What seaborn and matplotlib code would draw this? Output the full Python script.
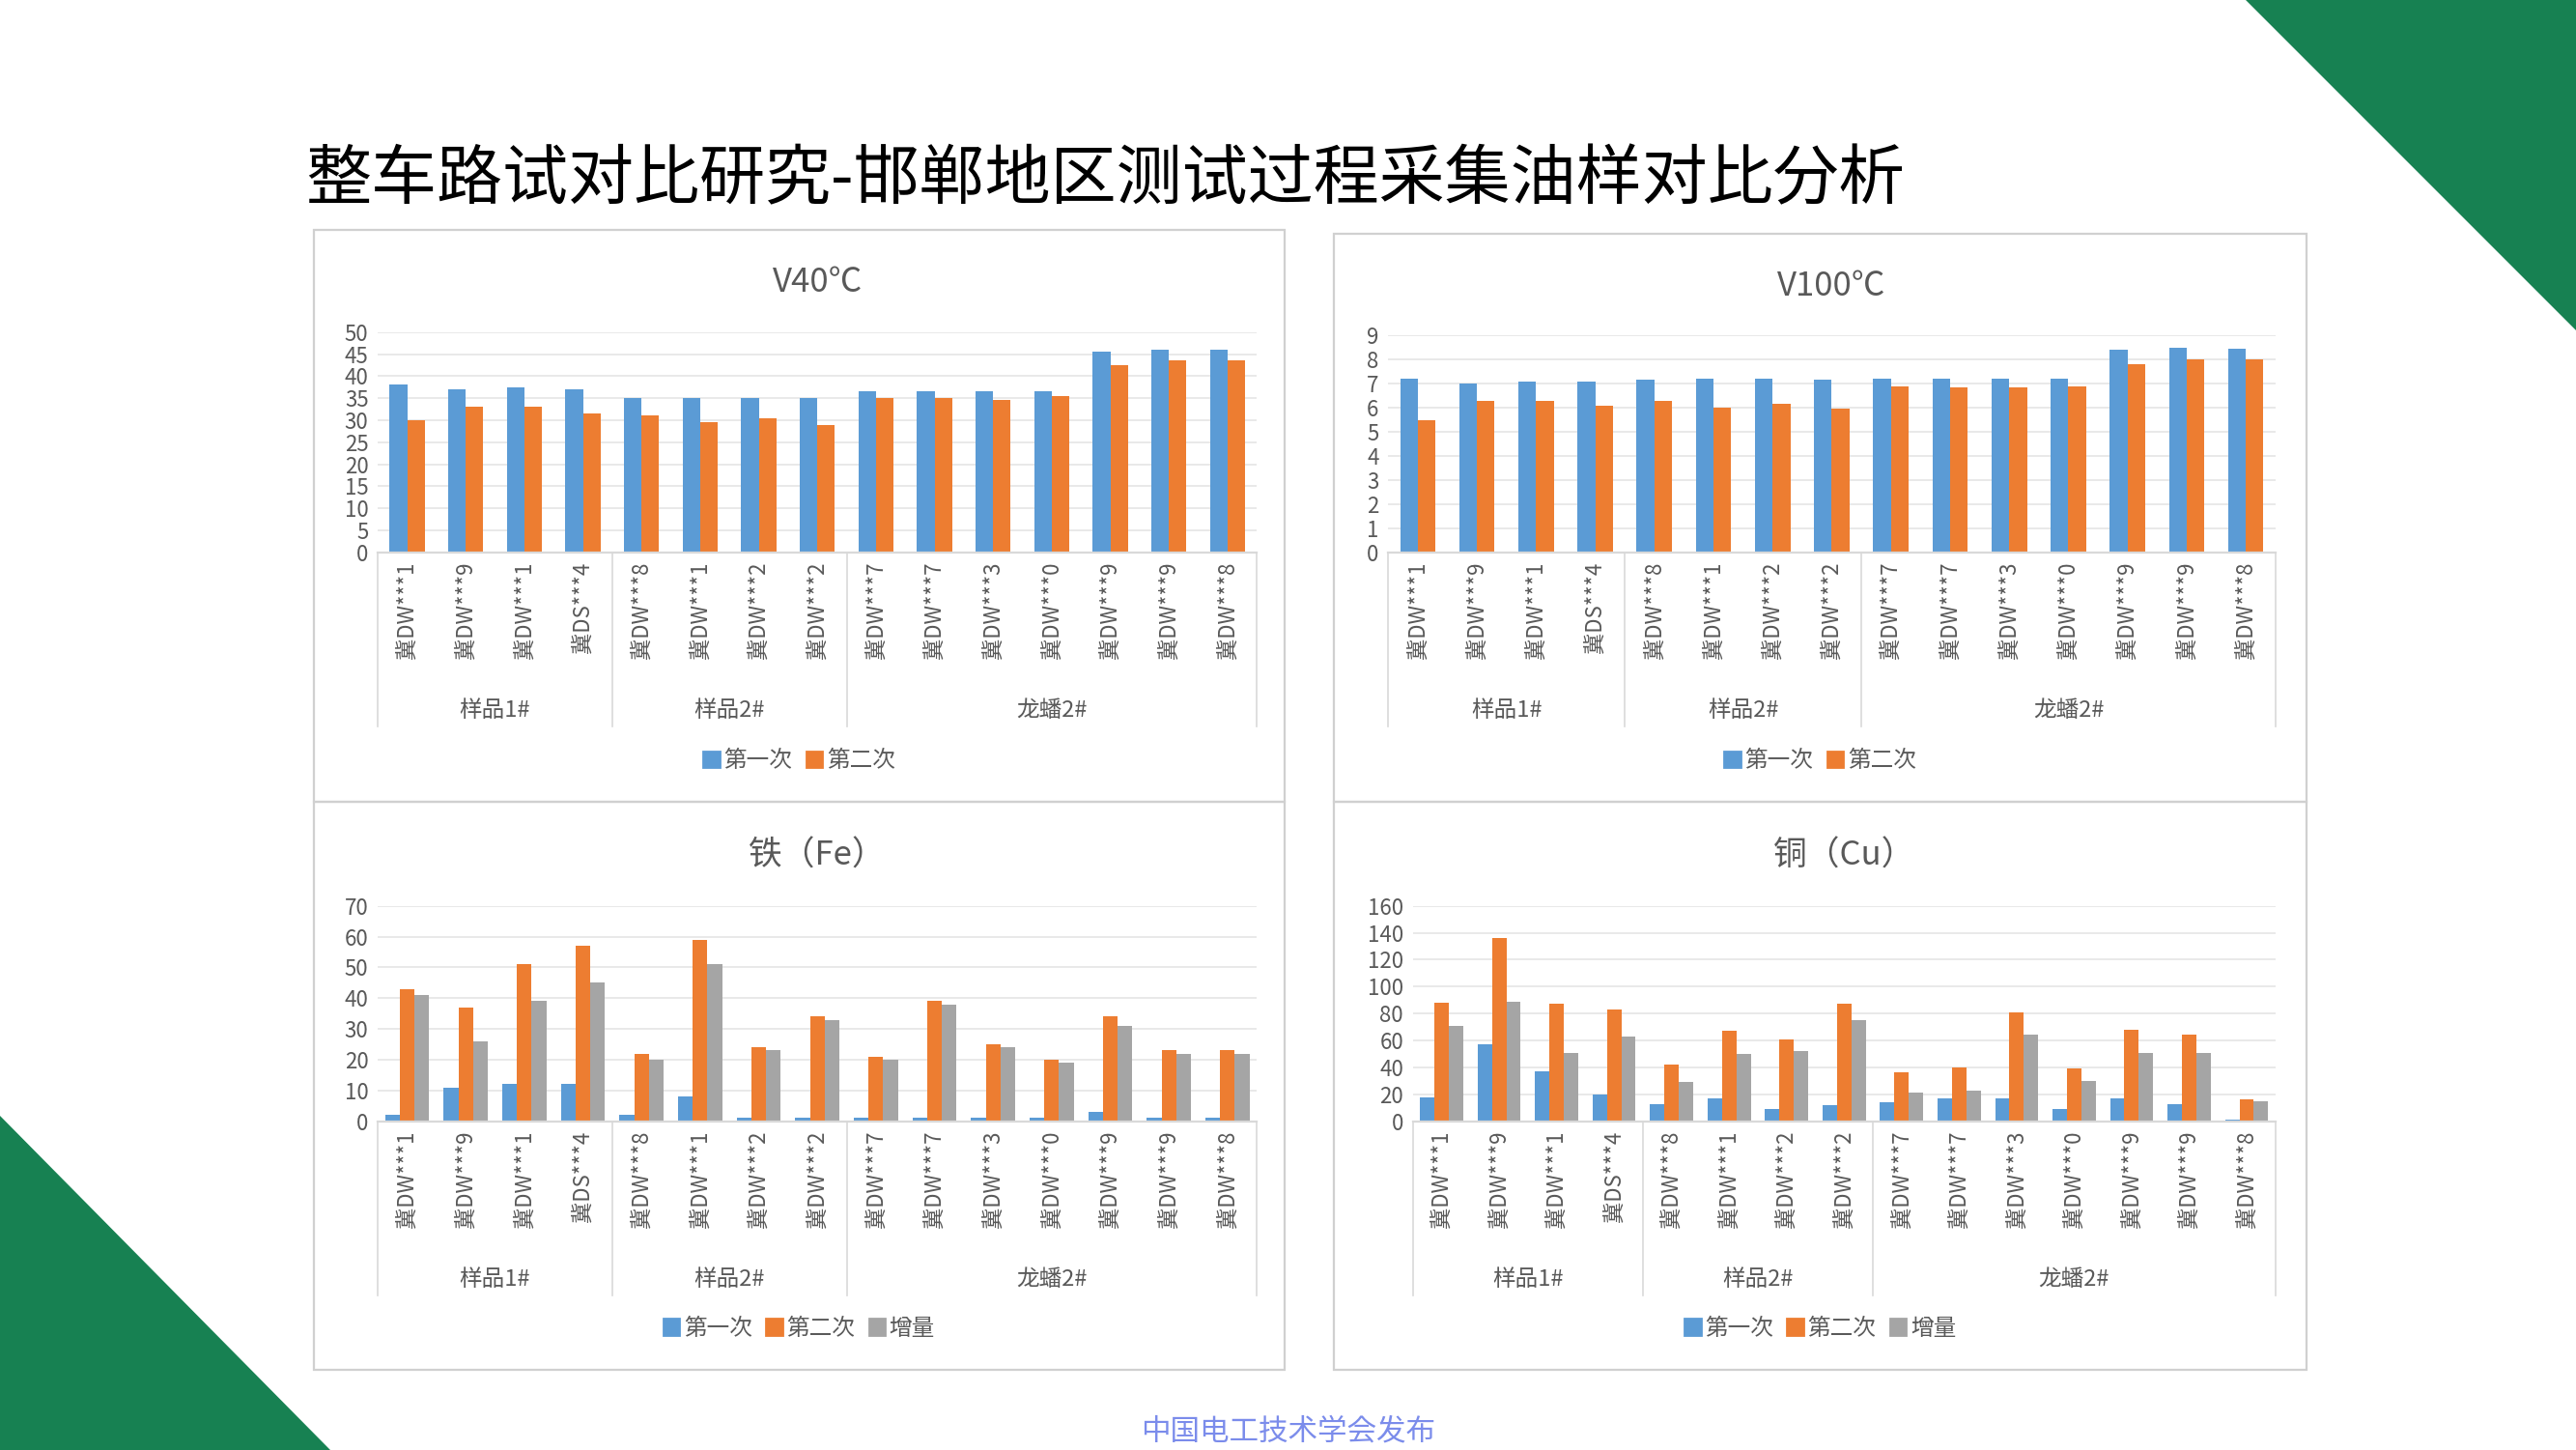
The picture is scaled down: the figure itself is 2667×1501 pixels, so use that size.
import matplotlib
matplotlib.use("Agg")
import matplotlib.pyplot as plt
import matplotlib.patches as mpatches
from matplotlib import font_manager as fm
import seaborn as sns
import pandas as pd
import numpy as np

cjk = [f for f in fm.fontManager.ttflist if "CJK" in f.name or "CJK" in f.fname]
cjk_names = sorted(set(f.name for f in cjk))
if not cjk:
    import glob
    for p in glob.glob("/usr/share/fonts/**/*CJK*", recursive=True) + glob.glob("/usr/share/fonts/**/*cjk*", recursive=True):
        try:
            fm.fontManager.addfont(p)
        except Exception:
            pass
    cjk_names = sorted(set(f.name for f in fm.fontManager.ttflist if "CJK" in f.name))
pref = [n for n in cjk_names if "SC" in n] + cjk_names
plt.rcParams["font.family"] = "sans-serif"
plt.rcParams["font.sans-serif"] = pref + ["DejaVu Sans"]

samples = ["冀DW***1", "冀DW***9", "冀DW***1", "冀DS***4", "冀DW***8", "冀DW***1", "冀DW***2", "冀DW***2",
           "冀DW***7", "冀DW***7", "冀DW***3", "冀DW***0", "冀DW***9", "冀DW***9", "冀DW***8"]
groups = ["样品1#", "样品2#", "龙蟠2#"]
group_sizes = [4, 4, 7]

v40_first = [38, 37, 37.5, 37, 35, 35, 35, 35, 36.5, 36.5, 36.5, 36.5, 45.5, 46, 46]
v40_second = [30, 33, 33, 31.5, 31, 29.5, 30.5, 29, 35, 35, 34.5, 35.5, 42.5, 43.5, 43.5]
v100_first = [7.2, 7.0, 7.1, 7.1, 7.15, 7.2, 7.2, 7.15, 7.2, 7.2, 7.2, 7.2, 8.4, 8.5, 8.45]
v100_second = [5.5, 6.3, 6.3, 6.1, 6.3, 6.0, 6.15, 5.95, 6.9, 6.85, 6.85, 6.9, 7.8, 8.0, 8.0]
fe_first = [2, 11, 12, 12, 2, 8, 1, 1, 1, 1, 1, 1, 3, 1, 1]
fe_second = [43, 37, 51, 57, 22, 59, 24, 34, 21, 39, 25, 20, 34, 23, 23]
fe_inc = [41, 26, 39, 45, 20, 51, 23, 33, 20, 38, 24, 19, 31, 22, 22]
cu_first = [18, 57, 37, 20, 13, 17, 9, 12, 14, 17, 17, 9, 17, 13, 1]
cu_second = [88, 136, 87, 83, 42, 67, 61, 87, 36, 40, 81, 39, 68, 64, 16]
cu_inc = [71, 89, 51, 63, 29, 50, 52, 75, 21, 23, 64, 30, 51, 51, 15]

colors = ["#5B9BD5", "#ED7D31", "#A5A5A5"]
W, H = 1568, 882

fig = plt.figure(figsize=(13.335, 7.505), dpi=200)
fig.patch.set_facecolor("white")

fig.patches.append(mpatches.Polygon([[1368/W, 1], [1, 1], [1, 1-200/H]], closed=True,
                                    transform=fig.transFigure, color="#178152", zorder=0))
fig.patches.append(mpatches.Polygon([[0, 1-680/H], [0, 0], [200/W, 0]], closed=True,
                                    transform=fig.transFigure, color="#178152", zorder=0))

fig.text(186/W, 1-110/H, "整车路试对比研究-邯郸地区测试过程采集油样对比分析", fontsize=24.5, va="center", ha="left")
fig.text(784/W, 1-871/H, "中国电工技术学会发布", fontsize=11, color="#7B8CEB", ha="center", va="center")

def panel(box, axbox, title, series, names, ylim, yticks, legend_y, width):
    x0, y0, x1, y1 = box
    fig.patches.append(mpatches.Rectangle((x0/W, 1-y1/H), (x1-x0)/W, (y1-y0)/H, transform=fig.transFigure,
                                          fill=False, edgecolor="#D0D0D0", lw=0.8))
    l, t, r, b = axbox
    ax = fig.add_axes([l/W, 1-b/H, (r-l)/W, (b-t)/H])
    rows = []
    for name, vals in zip(names, series):
        for i, v in enumerate(vals):
            rows.append({"pos": i, "val": v, "s": name})
    df = pd.DataFrame(rows)
    sns.barplot(data=df, x="pos", y="val", hue="s", palette=colors[:len(names)], ax=ax,
                width=width, legend=False, saturation=1)
    ax.set_ylim(*ylim)
    ax.set_yticks(yticks)
    ax.set_xlim(-0.5, len(samples)-0.5)
    ax.tick_params(axis="y", labelsize=8, length=0, colors="#595959")
    ax.set_xticks(range(len(samples)))
    ax.set_xticklabels(samples, rotation=90, fontsize=8, color="#595959")
    ax.tick_params(axis="x", length=0)
    ax.set_xlabel(""); ax.set_ylabel("")
    for s in ["top", "right", "left"]:
        ax.spines[s].set_visible(False)
    ax.spines["bottom"].set_color("#D9D9D9")
    ax.grid(axis="y", color="#E5E5E5", lw=0.6)
    ax.set_axisbelow(True)
    ax.set_title(title, fontsize=12.5, color="#595959", pad=15)
    hpx = b - t
    sep_end = -(106/hpx)
    grp_y = -(96/hpx)
    start = -0.5
    tr = ax.get_xaxis_transform()
    ax.plot([start, start], [0, sep_end], transform=tr, color="#D9D9D9", lw=0.6, clip_on=False)
    for g, n in zip(groups, group_sizes):
        end = start + n
        ax.plot([end, end], [0, sep_end], transform=tr, color="#D9D9D9", lw=0.6, clip_on=False)
        ax.text((start+end)/2, grp_y, g, transform=tr, ha="center", va="center", fontsize=8.5, color="#595959")
        start = end
    handles = [mpatches.Patch(color=colors[i], label=names[i]) for i in range(len(names))]
    fig.legend(handles=handles, loc="center", bbox_to_anchor=(((x0+x1)/2)/W, 1-legend_y/H), ncol=len(names),
               frameon=False, fontsize=8.5, handlelength=0.7, handleheight=0.7, columnspacing=0.6,
               handletextpad=0.2, labelcolor="#595959")

panel((191, 140, 782, 488), (230, 202, 765, 336), "V40℃", [v40_first, v40_second], ["第一次", "第二次"],
      (0, 50), range(0, 51, 5), 463, 0.6)
panel((812, 142, 1404, 488), (845, 204, 1385, 336), "V100℃", [v100_first, v100_second], ["第一次", "第二次"],
      (0, 9), range(0, 10), 463, 0.6)
panel((191, 488, 782, 833), (230, 551, 765, 682), "铁（Fe）", [fe_first, fe_second, fe_inc], ["第一次", "第二次", "增量"],
      (0, 70), range(0, 71, 10), 808, 0.75)
panel((812, 488, 1404, 833), (860, 551, 1385, 682), "铜（Cu）", [cu_first, cu_second, cu_inc], ["第一次", "第二次", "增量"],
      (0, 160), range(0, 161, 20), 808, 0.75)

fig.savefig("out.png", dpi=200)
